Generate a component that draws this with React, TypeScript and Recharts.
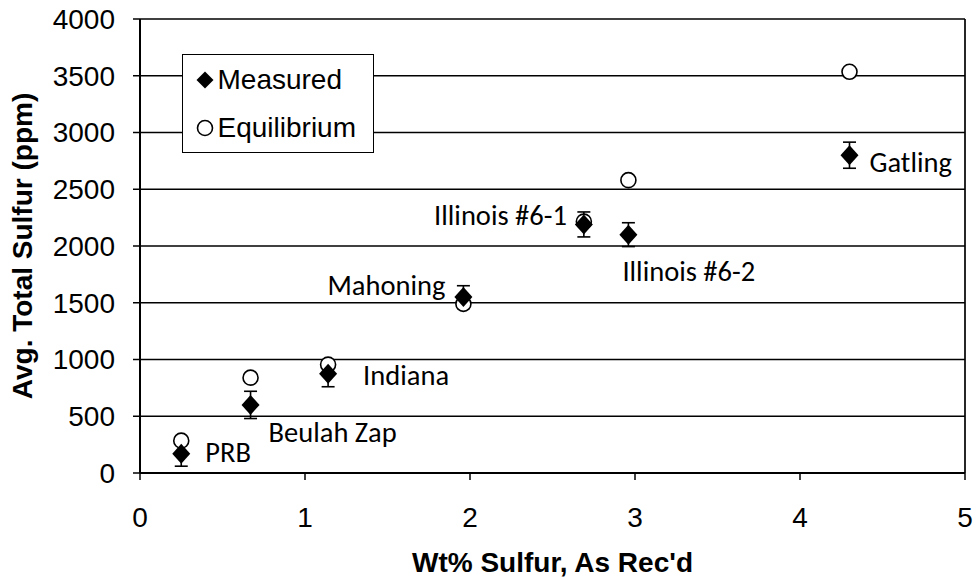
import React from 'react'
import {
  CartesianGrid,
  ErrorBar,
  LabelList,
  Label,
  Legend,
  ReferenceLine,
  Scatter,
  ScatterChart,
  XAxis,
  YAxis
} from 'recharts'

const COALS = ['PRB', 'Beulah Zap', 'Indiana', 'Mahoning', 'Illinois #6-1', 'Illinois #6-2', 'Gatling']
const WT_SULFUR = [0.25, 0.67, 1.14, 1.96, 2.69, 2.96, 4.3]
const MEASURED = [170, 600, 875, 1550, 2190, 2100, 2800]
const MEASURED_ERR = [110, 120, 115, 100, 110, 105, 115]
const EQUILIBRIUM = [285, 840, 955, 1490, 2215, 2580, 3535]
const X_TICKS = [0, 1, 2, 3, 4, 5]
const Y_TICKS = [0, 500, 1000, 1500, 2000, 2500, 3000, 3500, 4000]

// where each coal name sits relative to its measured point
const ETIQUETAS: Record<string, { dx: number; dy: number; anchor: 'start' | 'end' }> = {
  PRB: { dx: 24, dy: 8, anchor: 'start' },
  'Beulah Zap': { dx: 18, dy: 37, anchor: 'start' },
  Indiana: { dx: 35, dy: 11, anchor: 'start' },
  Mahoning: { dx: -18, dy: -2, anchor: 'end' },
  'Illinois #6-1': { dx: -17, dy: 1, anchor: 'end' },
  'Illinois #6-2': { dx: -6, dy: 46, anchor: 'start' },
  Gatling: { dx: 20, dy: 17, anchor: 'start' }
}

const FONTE = '"Liberation Sans", Arial, sans-serif'
const FONTE_ROTULO = 'Carlito, Calibri, Lato, sans-serif'

const dadosMedidos = COALS.map((nome, i) => ({
  nome,
  x: WT_SULFUR[i],
  y: MEASURED[i],
  erro: MEASURED_ERR[i]
}))

const dadosEquilibrio = COALS.map((nome, i) => ({
  nome,
  x: WT_SULFUR[i],
  y: EQUILIBRIUM[i]
}))

function Losango(props: any) {
  const { cx, cy } = props
  if (cx == null || cy == null) return null
  return <path d={`M${cx},${cy - 10}L${cx + 9},${cy}L${cx},${cy + 10}L${cx - 9},${cy}Z`} fill="#000" />
}

function Circulo(props: any) {
  const { cx, cy } = props
  if (cx == null || cy == null) return null
  return <circle cx={cx} cy={cy} r={7.5} fill="#fff" stroke="#000" strokeWidth={1.6} />
}

function RotuloCarvao(props: any) {
  const { x, y, width, height, value } = props
  const pos = ETIQUETAS[value as string]
  if (!pos) return null
  const cx = Number(x) + Number(width || 0) / 2
  const cy = Number(y) + Number(height || 0) / 2
  return (
    <text
      x={cx + pos.dx}
      y={cy + pos.dy}
      textAnchor={pos.anchor}
      fontFamily={FONTE_ROTULO}
      fontSize={28.5}
      fill="#000"
    >
      {value}
    </text>
  )
}

function TituloY(props: any) {
  const vb = props.viewBox || { y: 19, height: 454 }
  const cy = vb.y + vb.height / 2
  return (
    <text
      x={32}
      y={cy}
      transform={`rotate(-90, 32, ${cy})`}
      textAnchor="middle"
      fontFamily={FONTE}
      fontWeight="bold"
      fontSize={28}
      fill="#000"
    >
      Avg. Total Sulfur (ppm)
    </text>
  )
}

function TituloX(props: any) {
  const vb = props.viewBox || { x: 140, width: 825 }
  return (
    <text
      x={vb.x + vb.width / 2}
      y={572}
      textAnchor="middle"
      fontFamily={FONTE}
      fontWeight="bold"
      fontSize={28}
      fill="#000"
    >
      Wt% Sulfur, As Rec'd
    </text>
  )
}

function Legenda() {
  const linha: React.CSSProperties = {
    display: 'flex',
    alignItems: 'center',
    height: 48,
    fontFamily: FONTE,
    fontSize: 28,
    color: '#000'
  }
  return (
    <div style={{ paddingTop: 1 }}>
      <div style={linha}>
        <svg width={20} height={20} style={{ marginLeft: 11.5, marginRight: 3 }}>
          <path d="M10,1.5L18.5,10L10,18.5L1.5,10Z" fill="#000" />
        </svg>
        <span>Measured</span>
      </div>
      <div style={linha}>
        <svg width={20} height={20} style={{ marginLeft: 11.5, marginRight: 3 }}>
          <circle cx={10} cy={10} r={7.5} fill="#fff" stroke="#000" strokeWidth={1.6} />
        </svg>
        <span>Equilibrium</span>
      </div>
    </div>
  )
}

export default function App() {
  return (
    <div style={{ position: 'absolute', left: 0, top: 0, width: 977, height: 580, background: '#fff' }}>
      <ScatterChart width={977} height={580} margin={{ top: 19, right: 12, bottom: 0, left: 0 }}>
        <CartesianGrid vertical={false} stroke="#000" strokeWidth={1.3} />
        <XAxis
          type="number"
          dataKey="x"
          domain={[0, 5]}
          ticks={X_TICKS}
          interval={0}
          height={107}
          tickSize={7}
          tickMargin={27}
          axisLine={{ stroke: '#000', strokeWidth: 2 }}
          tickLine={{ stroke: '#000', strokeWidth: 1.5 }}
          tick={{ fill: '#000', fontSize: 28, fontFamily: FONTE }}
        >
          <Label content={TituloX} />
        </XAxis>
        <YAxis
          type="number"
          dataKey="y"
          domain={[0, 4000]}
          ticks={Y_TICKS}
          interval={0}
          width={140}
          tickSize={7}
          tickMargin={18}
          axisLine={{ stroke: '#000', strokeWidth: 2 }}
          tickLine={{ stroke: '#000', strokeWidth: 1.5 }}
          tick={{ fill: '#000', fontSize: 28, fontFamily: FONTE }}
        >
          <Label content={TituloY} />
        </YAxis>
        <ReferenceLine x={5} stroke="#000" strokeWidth={1.7} />
        <Scatter
          name="Equilibrium"
          data={dadosEquilibrio}
          shape={Circulo}
          isAnimationActive={false}
        />
        <Scatter
          name="Measured"
          data={dadosMedidos}
          shape={Losango}
          isAnimationActive={false}
        >
          <ErrorBar dataKey="erro" direction="y" width={6.5} stroke="#000" strokeWidth={1.6} />
          <LabelList dataKey="nome" content={RotuloCarvao} />
        </Scatter>
        <Legend
          layout="vertical"
          align="center"
          verticalAlign="middle"
          content={Legenda}
          wrapperStyle={{
            position: 'absolute',
            left: 182,
            top: 54,
            width: 192,
            height: 99,
            boxSizing: 'border-box',
            border: '1.5px solid #000',
            background: '#fff',
            margin: 0
          }}
        />
      </ScatterChart>
    </div>
  )
}
